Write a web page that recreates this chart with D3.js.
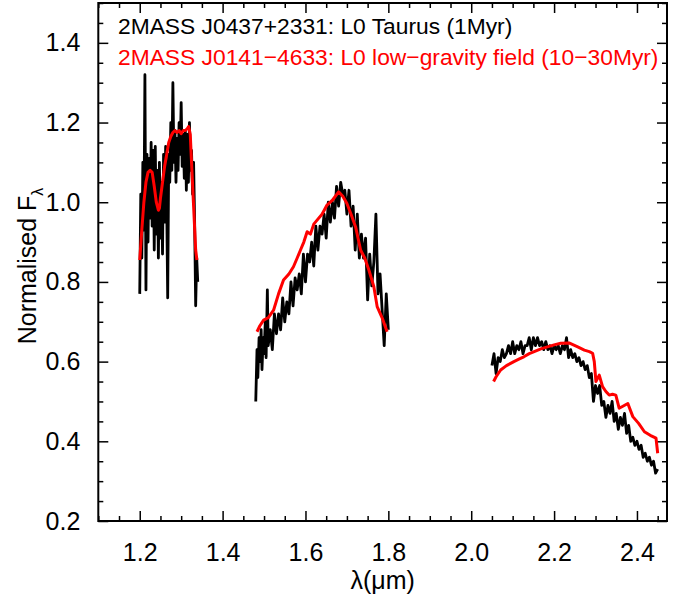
<!DOCTYPE html>
<html><head><meta charset="utf-8">
<script src="https://cdn.jsdelivr.net/npm/d3@7"></script>
<style>body{margin:0;background:#fff}svg{display:block}text{font-family:"Liberation Sans",Arial,Helvetica,sans-serif}</style>
</head><body><svg id="c" width="677" height="599"></svg>
<script>
// ---- data ----
const xTickValues = [1.2, 1.4, 1.6, 1.8, 2.0, 2.2, 2.4];
const yTickValues = [0.2, 0.4, 0.6, 0.8, 1.0, 1.2, 1.4];
const legendLabels = ["2MASS J0437+2331: L0 Taurus (1Myr)", "2MASS J0141\u22124633: L0 low\u2212gravity field (10\u221230Myr)"];

// Black: 2MASS J0437+2331 (Taurus)
const taurusJ_wave = [1.200,1.2025,1.205,1.2075,1.210,1.2125,1.215,1.2175,1.220,1.2225,1.225,1.2275,1.230,1.2325,1.235,1.2375,1.240,1.2425,1.245,1.2475,1.250,1.2525,1.255,1.2575,1.260,1.2625,1.265,1.2675,1.270,1.2725,1.275,1.2775,1.280,1.2825,1.285,1.2875,1.290,1.2925,1.295,1.2975,1.300,1.3025,1.305,1.3075,1.310,1.3125,1.315,1.3175,1.320,1.3225,1.325,1.3275,1.330,1.3325,1.335,1.3375,1.340];
const taurusJ_flux = [0.77,1.02,0.86,1.10,0.93,1.32,0.78,1.12,0.90,1.11,0.96,1.15,0.94,1.13,0.88,1.14,0.92,1.08,0.86,1.10,0.91,1.05,0.87,1.12,0.95,1.14,1.00,0.76,1.12,1.05,1.20,1.08,1.30,1.10,1.18,1.05,1.16,1.08,1.20,1.12,1.25,1.09,1.17,1.06,1.18,1.03,1.17,1.05,1.20,1.08,1.13,1.02,1.10,0.95,0.74,0.86,0.80];
const taurusH_wave = [1.480,1.483,1.485,1.488,1.490,1.493,1.495,1.498,1.500,1.503,1.505,1.508,1.510,1.515,1.520,1.525,1.530,1.535,1.540,1.545,1.550,1.555,1.560,1.565,1.570,1.575,1.580,1.585,1.590,1.595,1.600,1.605,1.610,1.615,1.620,1.625,1.630,1.635,1.640,1.645,1.650,1.655,1.660,1.665,1.670,1.675,1.680,1.685,1.690,1.695,1.700,1.705,1.710,1.715,1.720,1.725,1.730,1.735,1.740,1.745,1.750,1.755,1.760,1.765,1.770,1.775,1.780,1.785,1.790,1.795,1.800];
const taurusH_flux = [0.50,0.63,0.56,0.66,0.60,0.68,0.58,0.66,0.62,0.70,0.61,0.78,0.64,0.68,0.63,0.72,0.67,0.72,0.68,0.76,0.70,0.75,0.72,0.80,0.74,0.81,0.78,0.82,0.77,0.87,0.80,0.87,0.85,0.90,0.84,0.94,0.88,0.94,0.92,0.97,0.91,1.00,0.95,1.00,0.96,1.04,0.99,1.05,1.02,1.03,0.97,1.03,0.94,0.99,0.88,0.97,0.86,0.92,0.86,0.91,0.755,0.87,0.79,0.85,0.97,0.77,0.82,0.73,0.64,0.77,0.68];
const taurusK_wave = [2.050,2.055,2.060,2.065,2.070,2.075,2.080,2.085,2.090,2.095,2.100,2.105,2.110,2.115,2.120,2.125,2.130,2.135,2.140,2.145,2.150,2.155,2.160,2.165,2.170,2.175,2.180,2.185,2.190,2.195,2.200,2.205,2.210,2.215,2.220,2.225,2.230,2.235,2.240,2.245,2.250,2.255,2.260,2.265,2.270,2.275,2.280,2.285,2.290,2.295,2.300,2.305,2.310,2.315,2.320,2.325,2.330,2.335,2.340,2.345,2.350,2.355,2.360,2.365,2.370,2.375,2.380,2.385,2.390,2.395,2.400,2.405,2.410,2.415,2.420,2.425,2.430,2.435,2.440,2.445,2.450];
const taurusK_flux = [0.59,0.62,0.57,0.61,0.60,0.63,0.61,0.62,0.64,0.62,0.65,0.62,0.64,0.63,0.65,0.62,0.64,0.64,0.66,0.63,0.66,0.64,0.66,0.64,0.65,0.63,0.65,0.63,0.64,0.62,0.64,0.63,0.64,0.62,0.64,0.63,0.66,0.61,0.63,0.61,0.62,0.60,0.61,0.59,0.60,0.58,0.59,0.56,0.57,0.50,0.54,0.52,0.54,0.49,0.50,0.46,0.49,0.47,0.50,0.45,0.47,0.43,0.46,0.44,0.47,0.42,0.44,0.40,0.41,0.39,0.40,0.38,0.39,0.36,0.37,0.35,0.36,0.34,0.35,0.32,0.33];

// Red: 2MASS J0141-4633 (low-gravity field)
const fieldJ_wave = [1.200,1.205,1.210,1.215,1.220,1.225,1.230,1.235,1.240,1.245,1.2475,1.250,1.255,1.260,1.265,1.270,1.275,1.280,1.285,1.290,1.295,1.300,1.305,1.310,1.315,1.318,1.322,1.325,1.330,1.335,1.338];
const fieldJ_flux = [0.855,0.93,1.00,1.05,1.075,1.08,1.075,1.04,1.00,0.98,0.985,1.01,1.05,1.09,1.12,1.15,1.165,1.175,1.18,1.175,1.18,1.172,1.18,1.18,1.185,1.19,1.17,1.10,0.99,0.88,0.855];
const fieldH_wave = [1.483,1.490,1.499,1.510,1.523,1.535,1.547,1.560,1.571,1.580,1.588,1.596,1.604,1.612,1.620,1.628,1.640,1.652,1.665,1.680,1.690,1.700,1.710,1.721,1.733,1.743,1.753,1.765,1.773,1.785,1.797];
const fieldH_flux = [0.675,0.69,0.704,0.71,0.729,0.77,0.805,0.82,0.838,0.86,0.880,0.90,0.926,0.92,0.945,0.955,0.97,0.993,1.005,1.026,1.015,0.997,0.97,0.938,0.880,0.86,0.830,0.788,0.738,0.71,0.675];
const fieldK_wave = [2.054,2.060,2.071,2.085,2.103,2.115,2.127,2.140,2.152,2.168,2.184,2.200,2.216,2.236,2.257,2.273,2.285,2.293,2.297,2.301,2.309,2.317,2.325,2.333,2.341,2.349,2.357,2.366,2.378,2.390,2.404,2.418,2.432,2.446,2.450];
const fieldK_flux = [0.550,0.562,0.579,0.59,0.600,0.606,0.612,0.62,0.625,0.632,0.637,0.642,0.646,0.647,0.637,0.629,0.625,0.621,0.60,0.550,0.566,0.537,0.525,0.516,0.518,0.516,0.483,0.488,0.495,0.462,0.445,0.424,0.415,0.408,0.370];

// ---- layout ----
const svg = d3.select("#c");
const L = 98.3, R = 667, T = 3, B = 521;
const x = d3.scaleLinear().domain([1.1, 2.4725]).range([L, R]);
const y = d3.scaleLinear().domain([0.2, 1.5]).range([B, T]);
const font = '"Liberation Sans",Arial,Helvetica,sans-serif';

const xMinor = d3.range(1.1, 2.4726, 0.05).map(v => +v.toFixed(3)).filter(v => !xTickValues.some(t => Math.abs(t - v) < 1e-6));
const yMinor = d3.range(0.2, 1.5001, 0.05).map(v => +v.toFixed(3)).filter(v => !yTickValues.some(t => Math.abs(t - v) < 1e-6));

function styleAxis(g) {
  g.selectAll("path").remove();
  g.selectAll("line").attr("stroke", "#000").attr("stroke-width", 1.5);
}
// bottom
svg.append("g").attr("transform", `translate(0,${B})`)
  .call(d3.axisBottom(x).tickValues(xTickValues).tickSize(-10).tickPadding(22).tickFormat(d3.format(".1f")))
  .call(styleAxis)
  .call(g => g.selectAll("text").attr("font-size", 25).attr("font-family", font).attr("fill", "#000"));
svg.append("g").attr("transform", `translate(0,${B})`)
  .call(d3.axisBottom(x).tickValues(xMinor).tickSize(-5).tickFormat(""))
  .call(styleAxis);
// top
svg.append("g").attr("transform", `translate(0,${T})`)
  .call(d3.axisTop(x).tickValues(xTickValues).tickSize(-10).tickFormat(""))
  .call(styleAxis);
svg.append("g").attr("transform", `translate(0,${T})`)
  .call(d3.axisTop(x).tickValues(xMinor).tickSize(-5).tickFormat(""))
  .call(styleAxis);
// left
svg.append("g").attr("transform", `translate(${L},0)`)
  .call(d3.axisLeft(y).tickValues(yTickValues).tickSize(-10).tickPadding(18).tickFormat(d3.format(".1f")))
  .call(styleAxis)
  .call(g => g.selectAll("text").attr("font-size", 25).attr("font-family", font).attr("fill", "#000"));
svg.append("g").attr("transform", `translate(${L},0)`)
  .call(d3.axisLeft(y).tickValues(yMinor).tickSize(-5).tickFormat(""))
  .call(styleAxis);
// right
svg.append("g").attr("transform", `translate(${R},0)`)
  .call(d3.axisRight(y).tickValues(yTickValues).tickSize(-10).tickFormat(""))
  .call(styleAxis);
svg.append("g").attr("transform", `translate(${R},0)`)
  .call(d3.axisRight(y).tickValues(yMinor).tickSize(-5).tickFormat(""))
  .call(styleAxis);
// frame
svg.append("rect").attr("x", L).attr("y", T).attr("width", R - L).attr("height", B - T)
  .attr("fill", "none").attr("stroke", "#000").attr("stroke-width", 2);

// ---- spectra ----
const line = d3.line().x(d => x(d[0])).y(d => y(d[1]));
const zip = (w, f) => w.map((v, i) => [v, f[i]]);
const black = [zip(taurusJ_wave, taurusJ_flux), zip(taurusH_wave, taurusH_flux), zip(taurusK_wave, taurusK_flux)];
const red = [zip(fieldJ_wave, fieldJ_flux), zip(fieldH_wave, fieldH_flux), zip(fieldK_wave, fieldK_flux)];
svg.append("g").selectAll("path").data(black).join("path")
  .attr("d", line).attr("fill", "none").attr("stroke", "#000").attr("stroke-width", 2.8).attr("stroke-linejoin", "round");
svg.append("g").selectAll("path").data(red).join("path")
  .attr("d", line).attr("fill", "none").attr("stroke", "#ff0000").attr("stroke-width", 3).attr("stroke-linejoin", "round");

// ---- legend ----
svg.append("text").attr("x", 118).attr("y", 34).attr("font-size", 22.8).attr("fill", "#000").text(legendLabels[0]);
svg.append("text").attr("x", 118).attr("y", 65).attr("font-size", 22.8).attr("fill", "#ff0000").text(legendLabels[1]);

// ---- axis titles ----
svg.append("text").attr("x", (L + R) / 2).attr("y", 589).attr("text-anchor", "middle").attr("font-size", 25).text("\u03bb(\u03bcm)");
const yt = svg.append("text").attr("transform", `translate(36,${(T + B) / 2 + 4}) rotate(-90)`).attr("text-anchor", "middle").attr("font-size", 25);
yt.append("tspan").text("Normalised F");
yt.append("tspan").attr("font-size", 16).attr("dy", 7).text("\u03bb");
</script></body></html>
